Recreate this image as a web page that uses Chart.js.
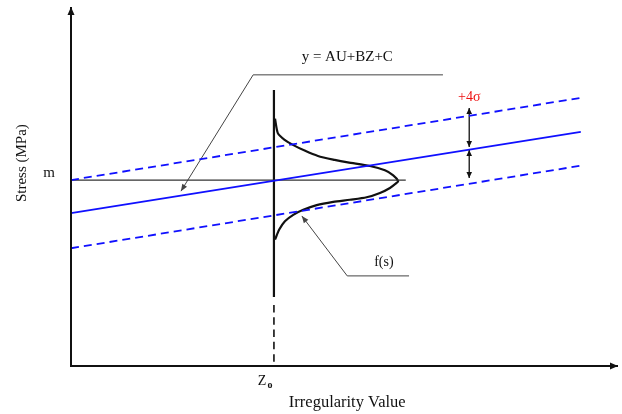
<!DOCTYPE html>
<html><head><meta charset="utf-8">
<script src="https://cdn.jsdelivr.net/npm/chart.js@4"></script>
<style>html,body{margin:0;padding:0;background:#fff;}canvas{display:block;}</style>
</head><body>
<canvas id="c" width="622" height="414"></canvas>
<script>
// ---- data (schematic units: x 0..100, y 0..100) ----
const lineX = [0, 93.2];
const meanLine = [42.6, 65.2];        // y = AU+BZ+C
const upperLine = [51.8, 74.7];       // +4 sigma
const lowerLine = [32.8, 55.8];       // -4 sigma
const zo = 37.1;                      // Z0 position
const mLevel = 51.8;                  // m
const mLineEnd = 61.2;
const zoSolid = [76.9, 19.2];
const zoDashed = [17.0, 0];
const pdfStress  = [68.9, 64.8, 63.0, 61.6, 60.0, 58.5, 57.4, 56.7, 55.7, 54.5, 53.1, 51.5, 51.0, 49.6, 48.2, 47.0, 46.3, 45.7, 44.8, 43.5, 42.1, 40.3, 38.0, 35.2];
const pdfDensity = [0.2, 0.73, 1.96, 3.47, 5.61, 8.04, 11.1, 13.5, 17.55, 20.29, 21.81, 22.72, 22.43, 21.21, 19.38, 16.95, 13.89, 10.84, 7.81, 5.36, 3.53, 2.01, 0.97, 0.2];
const leaderEq = {x:[68.0, 33.3, 20.1], y:[81.1, 81.1, 48.7]};
const leaderFs = {x:[61.8, 50.5, 42.2], y:[25.1, 25.1, 41.8]};
const sigmaX = 72.8;
const sigmaUp = [71.9, 61.0];
const sigmaDown = [60.2, 52.4];
const labels = {eq:'y = AU+BZ+C', sigma:'+4σ', fs:'f(s)', m:'m', z:'Z', zsub:'o', xTitle:'Irregularity Value', yTitle:'Stress (MPa)'};

const pts = (xs, ys) => xs.map((v,i)=>({x:v, y:ys[i]}));
const BLUE = '#1010ff';
const SERIF = '"Liberation Serif", "DejaVu Serif", serif';

const datasets = [
  {data:[{x:0,y:100},{x:0,y:0},{x:100,y:0}], borderColor:'#111', borderWidth:2, arrowStart:true, arrowEnd:true, head:[8,3.5]},
  {data:pts(lineX, upperLine), borderColor:BLUE, borderWidth:1.8, borderDash:[8,5]},
  {data:pts(lineX, lowerLine), borderColor:BLUE, borderWidth:1.8, borderDash:[8,5]},
  {data:pts(lineX, meanLine), borderColor:BLUE, borderWidth:1.8},
  {data:[{x:0,y:mLevel},{x:mLineEnd,y:mLevel}], borderColor:'#333', borderWidth:1.2},
  {data:[{x:zo,y:zoSolid[0]},{x:zo,y:zoSolid[1]}], borderColor:'#111', borderWidth:2.2},
  {data:[{x:zo,y:zoDashed[0]},{x:zo,y:zoDashed[1]}], borderColor:'#111', borderWidth:1.6, borderDash:[7.5,4.8]},
  {data:pdfStress.map((s,i)=>({x:zo+pdfDensity[i], y:s})), borderColor:'#111', borderWidth:2.2, tension:0.25},
  {data:pts(leaderEq.x, leaderEq.y), borderColor:'#444', borderWidth:1, arrowEnd:true, head:[7,2.8]},
  {data:pts(leaderFs.x, leaderFs.y), borderColor:'#444', borderWidth:1, arrowEnd:true, head:[7,2.8]},
  {data:[{x:sigmaX,y:sigmaUp[0]},{x:sigmaX,y:sigmaUp[1]}], borderColor:'#111', borderWidth:1.3, arrowStart:true, arrowEnd:true, head:[6,2.8]},
  {data:[{x:sigmaX,y:sigmaDown[0]},{x:sigmaX,y:sigmaDown[1]}], borderColor:'#111', borderWidth:1.3, arrowStart:true, arrowEnd:true, head:[6,2.8]}
].map(d=>Object.assign({showLine:true, pointRadius:0, pointHoverRadius:0, fill:false, clip:false}, d));

function head(ctx, tip, prev, L, W, color){
  const a = Math.atan2(tip.y-prev.y, tip.x-prev.x);
  ctx.save();
  ctx.translate(tip.x, tip.y); ctx.rotate(a);
  ctx.beginPath(); ctx.moveTo(0,0); ctx.lineTo(-L,W); ctx.lineTo(-L,-W); ctx.closePath();
  ctx.fillStyle = color; ctx.fill();
  ctx.restore();
}

const annot = {
  id:'annot',
  afterDatasetsDraw(chart){
    const ctx = chart.ctx, X = chart.scales.x, Y = chart.scales.y;
    chart.data.datasets.forEach((ds,i)=>{
      const p = chart.getDatasetMeta(i).data;
      const [L,W] = ds.head || [7,3];
      if (ds.arrowEnd) head(ctx, p[p.length-1], p[p.length-2], L, W, ds.borderColor);
      if (ds.arrowStart) head(ctx, p[0], p[1], L, W, ds.borderColor);
    });
    const txt = (s, ux, uy, font, color, dx=0, dy=0) => {
      ctx.save(); ctx.font = font; ctx.fillStyle = color || '#111';
      ctx.textAlign = 'center'; ctx.textBaseline = 'middle';
      ctx.fillText(s, X.getPixelForValue(ux)+dx, Y.getPixelForValue(uy)+dy);
      ctx.restore();
    };
    txt(labels.eq, 50.5, 86.1, '15px '+SERIF);
    txt(labels.sigma, 72.8, 74.9, '14px '+SERIF, '#ee1111');
    txt(labels.fs, 57.2, 29.0, '14px '+SERIF);
    txt(labels.m, -4.0, 53.8, '15px '+SERIF);
    txt(labels.z, zo, 0, '14px '+SERIF, '#111', -12, 15);
    txt(labels.zsub, zo, 0, 'bold 10px '+SERIF, '#111', -4, 19);
    txt(labels.xTitle, 50.5, 0, '16.5px '+SERIF, '#111', 0, 37);
    ctx.save();
    ctx.translate(X.getPixelForValue(0)-49, Y.getPixelForValue(56.5));
    ctx.rotate(-Math.PI/2);
    ctx.font = '15px '+SERIF; ctx.fillStyle = '#111'; ctx.textAlign='center'; ctx.textBaseline='middle';
    ctx.fillText(labels.yTitle, 0, 0);
    ctx.restore();
  }
};

new Chart(document.getElementById('c'), {
  type:'scatter',
  data:{datasets},
  options:{
    responsive:false, animation:false, devicePixelRatio:1,
    layout:{padding:{left:71, top:7, right:4, bottom:48}},
    plugins:{legend:{display:false}, tooltip:{enabled:false}},
    events:[],
    scales:{
      x:{type:'linear', min:0, max:100, display:false},
      y:{type:'linear', min:0, max:100, display:false}
    }
  },
  plugins:[annot]
});
</script>
</body></html>
